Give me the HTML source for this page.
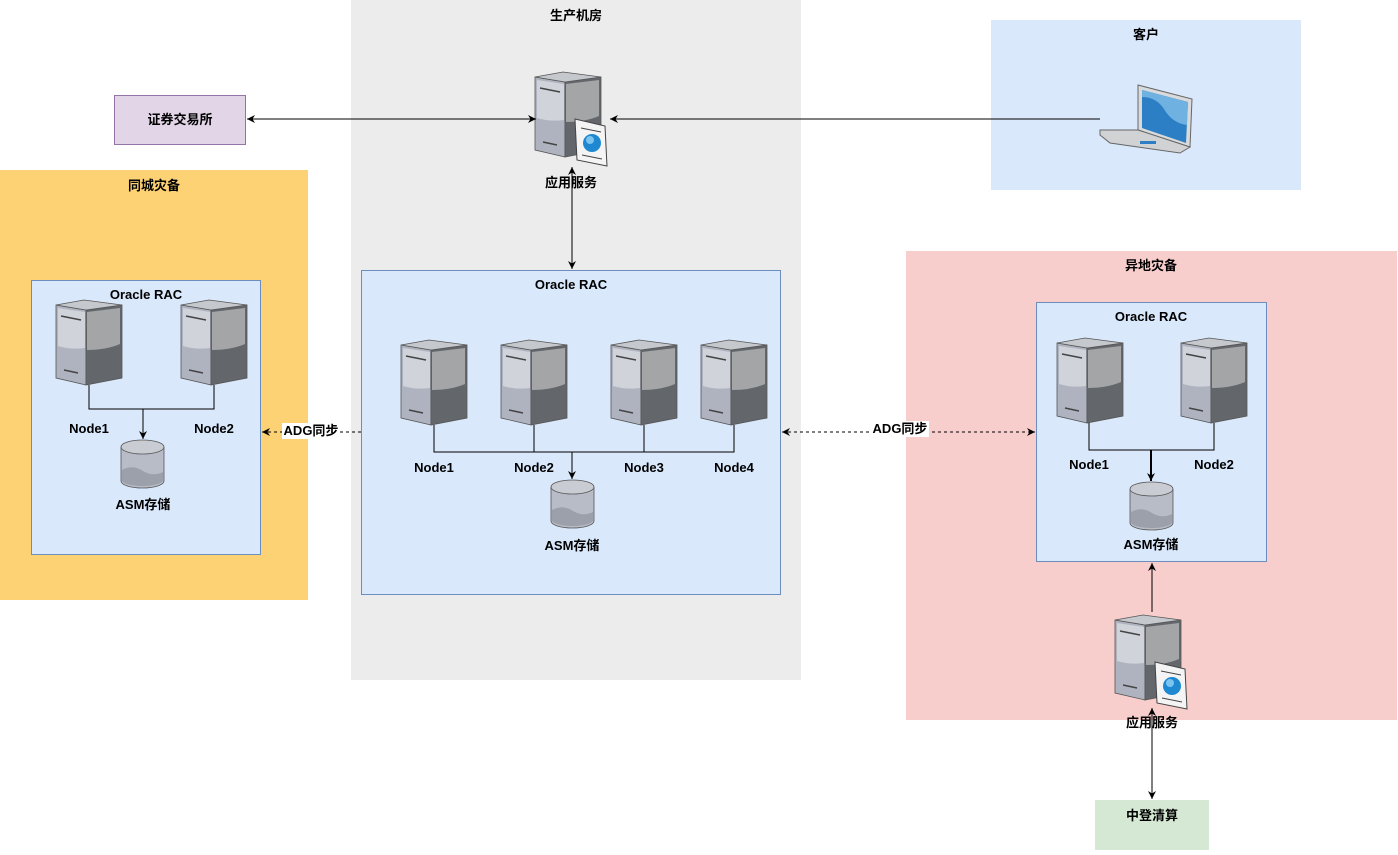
<!DOCTYPE html>
<html><head><meta charset="utf-8"><style>
html,body{margin:0;padding:0;background:#fff;}
svg text{font-family:"Liberation Sans","Noto Sans CJK SC",sans-serif;font-size:13px;font-weight:bold;fill:#000;text-anchor:middle;}
</style></head><body>
<svg width="1398" height="850" viewBox="0 0 1398 850" xmlns="http://www.w3.org/2000/svg">
<defs>
<marker id="ar" markerWidth="10" markerHeight="10" refX="8" refY="5" orient="auto-start-reverse" markerUnits="userSpaceOnUse">
<path d="M0,1 L8,5 L0,9 L2.5,5 Z" fill="#000"/></marker>
<g id="srv">
<polygon points="0,5 30,10 30,85 0,78" fill="#aeb3bf" stroke="#555" stroke-width="0.8"/>
<polygon points="30,10 66,5 66,78 30,85" fill="#63676c" stroke="#555" stroke-width="0.8"/>
<path d="M2,8 L29,12 L29,48 Q15,50 2,46 Z" fill="#d0d3d9"/>
<path d="M31,12 L64,8 L64,44 Q50,50 31,50 Z" fill="#a3a5a6"/>
<polygon points="0,5 28,0 66,5 30,10" fill="#c5c8cc" stroke="#555" stroke-width="0.8"/>
<line x1="5" y1="16" x2="25" y2="20" stroke="#444" stroke-width="1.5"/>
<line x1="8" y1="70" x2="22" y2="73" stroke="#444" stroke-width="1.5"/>
</g>
<g id="cyl">
<path d="M0,7 L0,41 A21.5,7 0 0 0 43,41 L43,7" fill="#b8bcc6" stroke="#555" stroke-width="0.8"/>
<path d="M1,30 Q12,24 22,31 Q32,37 42,32 L42,41 A21,6.5 0 0 1 1,41 Z" fill="#9ca0aa"/>
<ellipse cx="21.5" cy="7" rx="21.5" ry="7" fill="#c9ccd3" stroke="#555" stroke-width="0.8"/>
</g>
<g id="app">
<use href="#srv"/>
<polygon points="40,47 70,54 72,94 42,88" fill="#f4f4f4" stroke="#444" stroke-width="1"/>
<circle cx="57" cy="71" r="9" fill="#1e88d0"/>
<circle cx="55" cy="68" r="4" fill="#7cc4f0"/>
<line x1="46" y1="56" x2="66" y2="60" stroke="#444"/>
<line x1="47" y1="83" x2="67" y2="87" stroke="#444"/>
</g>
</defs>

<!-- containers -->
<rect x="351" y="0" width="450" height="680" fill="#ececec"/>
<text x="576" y="20">生产机房</text>
<rect x="991" y="20" width="310" height="170" fill="#dae8fc"/>
<text x="1146" y="39">客户</text>
<rect x="114.5" y="95.5" width="131" height="49" fill="#e1d5e7" stroke="#9673a6"/>
<text x="180" y="124">证券交易所</text>
<rect x="0" y="170" width="308" height="430" fill="#fdd275"/>
<text x="154" y="190">同城灾备</text>
<rect x="906" y="251" width="491" height="469" fill="#f8cecc"/>
<text x="1151" y="270">异地灾备</text>
<rect x="1095" y="800" width="114" height="50" fill="#d5e8d4"/>
<text x="1152" y="820">中登清算</text>

<!-- left RAC -->
<rect x="31.5" y="280.5" width="229" height="274" fill="#dae8fc" stroke="#6c8ebf"/>
<text x="146" y="299">Oracle RAC</text>
<use href="#srv" x="56" y="300"/>
<use href="#srv" x="181" y="300"/>
<path d="M89,385 V409 H214 V385" fill="none" stroke="#000"/>
<line x1="143" y1="409" x2="143" y2="439" stroke="#000" marker-end="url(#ar)"/>
<text x="89" y="433">Node1</text>
<text x="214" y="433">Node2</text>
<use href="#cyl" x="121" y="440"/>
<text x="143" y="509">ASM存储</text>

<!-- center RAC -->
<rect x="361.5" y="270.5" width="419" height="324" fill="#dae8fc" stroke="#6c8ebf"/>
<text x="571" y="289">Oracle RAC</text>
<use href="#srv" x="401" y="340"/>
<use href="#srv" x="501" y="340"/>
<use href="#srv" x="611" y="340"/>
<use href="#srv" x="701" y="340"/>
<path d="M434,425 V452 H734 V425 M534,425 V452 M644,425 V452" fill="none" stroke="#000"/>
<line x1="572" y1="452" x2="572" y2="479" stroke="#000" marker-end="url(#ar)"/>
<text x="434" y="472">Node1</text>
<text x="534" y="472">Node2</text>
<text x="644" y="472">Node3</text>
<text x="734" y="472">Node4</text>
<use href="#cyl" x="551" y="480"/>
<text x="572" y="550">ASM存储</text>

<!-- right RAC -->
<rect x="1036.5" y="302.5" width="230" height="259" fill="#dae8fc" stroke="#6c8ebf"/>
<text x="1151" y="321">Oracle RAC</text>
<use href="#srv" x="1057" y="338"/>
<use href="#srv" x="1181" y="338"/>
<path d="M1089,423 V450 H1214 V423" fill="none" stroke="#000"/>
<line x1="1151" y1="450" x2="1151" y2="481" stroke="#000" stroke-width="2" marker-end="url(#ar)"/>
<text x="1089" y="469">Node1</text>
<text x="1214" y="469">Node2</text>
<use href="#cyl" x="1130" y="482"/>
<text x="1151" y="549">ASM存储</text>

<!-- app servers -->
<use href="#app" x="535" y="72"/>
<text x="571" y="187">应用服务</text>
<use href="#app" x="1115" y="615"/>
<text x="1152" y="727">应用服务</text>

<!-- laptop -->
<g transform="translate(1100,85)">
<polygon points="38,0 92,14 90,62 38,45" fill="#d8dadc" stroke="#666"/>
<polygon points="42,5 88,17 86,58 42,43" fill="#2c7fc4"/>
<path d="M42,5 L88,17 L87,40 Q72,38 64,24 Q56,12 42,12 Z" fill="#6fb1e0"/>
<polygon points="0,45 38,45 90,62 80,68 10,58 0,50" fill="#d0d2d4" stroke="#666"/>
<rect x="40" y="56" width="16" height="3" fill="#2c7fc4"/>
</g>

<!-- connectors -->
<line x1="247" y1="119" x2="536" y2="119" stroke="#000" marker-start="url(#ar)" marker-end="url(#ar)"/>
<line x1="1100" y1="119" x2="610" y2="119" stroke="#000" marker-end="url(#ar)"/>
<line x1="572" y1="167" x2="572" y2="269" stroke="#000" marker-start="url(#ar)" marker-end="url(#ar)"/>
<line x1="1152" y1="612" x2="1152" y2="563" stroke="#000" marker-end="url(#ar)"/>
<line x1="1152" y1="708" x2="1152" y2="799" stroke="#000" marker-start="url(#ar)" marker-end="url(#ar)"/>
<line x1="361" y1="432" x2="262" y2="432" stroke="#000" stroke-dasharray="3,3" marker-end="url(#ar)"/>
<rect x="282" y="423" width="58" height="16" fill="#fff"/>
<text x="311" y="435">ADG同步</text>
<line x1="782" y1="432" x2="1035" y2="432" stroke="#000" stroke-dasharray="3,3" marker-start="url(#ar)" marker-end="url(#ar)"/>
<rect x="871" y="421" width="58" height="16" fill="#fff"/>
<text x="900" y="433">ADG同步</text>
</svg>
</body></html>
